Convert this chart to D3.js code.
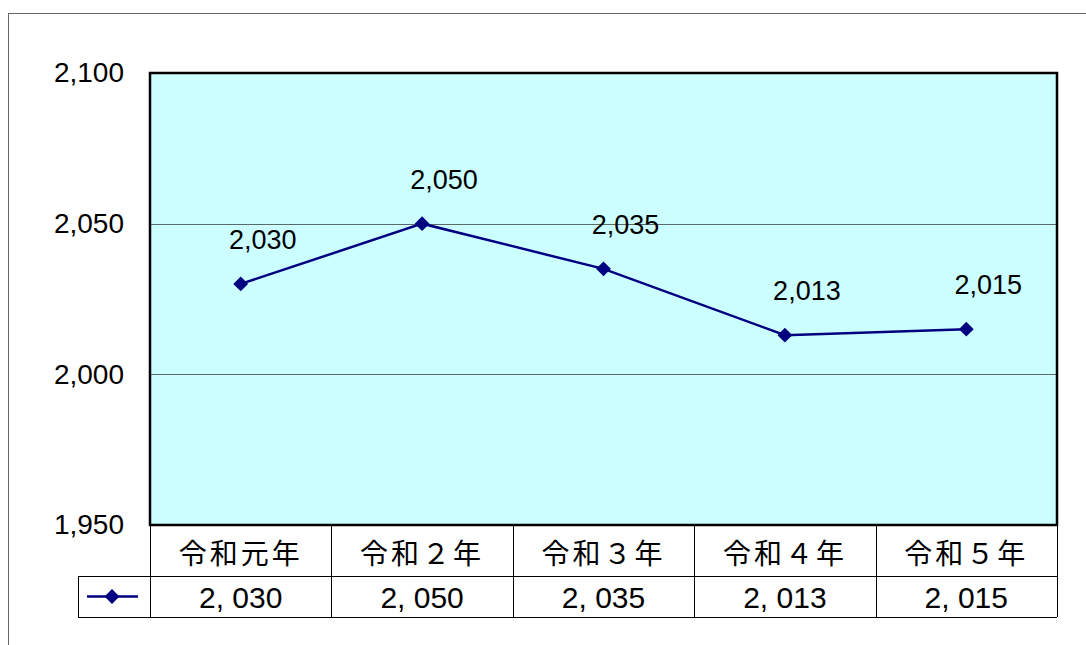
<!DOCTYPE html>
<html>
<head>
<meta charset="utf-8">
<script src="https://cdn.jsdelivr.net/npm/d3@7"></script>
<style>
  body { margin: 0; background: #fff; }
  svg { display: block; }
</style>
</head>
<body>
<div id="chart"></div>
<script>
const categories = ["令和元年", "令和２年", "令和３年", "令和４年", "令和５年"];
const values = [2030, 2050, 2035, 2013, 2015];
const tableLabels = ["2, 030", "2, 050", "2, 035", "2, 013", "2, 015"];
const yTicks = [1950, 2000, 2050, 2100];

const W = 1086, H = 645;
const plot = { left: 150, top: 73, right: 1057, bottom: 525 };
const rowH1 = 51, rowH2 = 41;
const legendLeft = 78;

const svg = d3.select('#chart').append('svg')
  .attr('width', W)
  .attr('height', H);

// outer chart frame
svg.append('rect')
  .attr('x', 8.5).attr('y', 13.5)
  .attr('width', W).attr('height', H)
  .attr('fill', 'none')
  .attr('stroke', '#666')
  .attr('stroke-width', 1);

const x = d3.scaleBand()
  .domain(categories)
  .range([plot.left, plot.right]);

const y = d3.scaleLinear()
  .domain([1950, 2100])
  .range([plot.bottom, plot.top]);

// plot background
svg.append('rect')
  .attr('x', plot.left).attr('y', plot.top)
  .attr('width', plot.right - plot.left)
  .attr('height', plot.bottom - plot.top)
  .attr('fill', '#ccffff');

// gridlines
svg.selectAll('.grid')
  .data(yTicks.filter(d => d > 1950 && d < 2100))
  .enter().append('line')
  .attr('x1', plot.left).attr('x2', plot.right)
  .attr('y1', d => Math.round(y(d)) + 0.5)
  .attr('y2', d => Math.round(y(d)) + 0.5)
  .attr('stroke', '#5a6a6a')
  .attr('stroke-width', 1);

// y axis labels
const yAxis = d3.axisLeft(y)
  .tickValues(yTicks)
  .tickSize(0)
  .tickPadding(26)
  .tickFormat(d3.format(','));

svg.append('g')
  .attr('transform', `translate(${plot.left},0)`)
  .call(yAxis)
  .call(g => g.select('.domain').remove())
  .selectAll('text')
  .attr('font-family', 'Liberation Sans, Arial, sans-serif')
  .attr('font-size', 28)
  .attr('fill', '#000');

// line
const line = d3.line()
  .x((d, i) => x(categories[i]) + x.bandwidth() / 2)
  .y(d => y(d));

svg.append('path')
  .datum(values)
  .attr('d', line)
  .attr('fill', 'none')
  .attr('stroke', '#000080')
  .attr('stroke-width', 2.5);

const diamond = d3.symbol().type(d3.symbolDiamond2).size(140);

svg.selectAll('.pt')
  .data(values)
  .enter().append('path')
  .attr('d', diamond)
  .attr('transform', (d, i) => `translate(${x(categories[i]) + x.bandwidth() / 2},${y(d)})`)
  .attr('fill', '#000080');

// data labels
svg.selectAll('.lbl')
  .data(values)
  .enter().append('text')
  .attr('x', (d, i) => x(categories[i]) + x.bandwidth() / 2 + 22)
  .attr('y', d => y(d) - 44)
  .attr('text-anchor', 'middle')
  .attr('dominant-baseline', 'central')
  .attr('font-family', 'Liberation Sans, Arial, sans-serif')
  .attr('font-size', 27)
  .attr('fill', '#000')
  .text(d => d3.format(',')(d));

// plot border
svg.append('rect')
  .attr('x', plot.left).attr('y', plot.top)
  .attr('width', plot.right - plot.left)
  .attr('height', plot.bottom - plot.top)
  .attr('fill', 'none')
  .attr('stroke', '#000')
  .attr('stroke-width', 2.5);

// data table
const t = svg.append('g').attr('stroke', '#000').attr('stroke-width', 1);
const r1 = plot.bottom, r2 = plot.bottom + rowH1, r3 = plot.bottom + rowH1 + rowH2;

t.append('line').attr('x1', legendLeft).attr('x2', plot.right).attr('y1', r2 + 0.5).attr('y2', r2 + 0.5);
t.append('line').attr('x1', legendLeft).attr('x2', plot.right).attr('y1', r3 + 0.5).attr('y2', r3 + 0.5);
t.append('line').attr('x1', legendLeft + 0.5).attr('x2', legendLeft + 0.5).attr('y1', r2).attr('y2', r3);
t.selectAll('.vdiv')
  .data(categories.concat(['end']))
  .enter().append('line')
  .attr('x1', (d, i) => Math.round(i < categories.length ? x(d) : plot.right) + 0.5)
  .attr('x2', (d, i) => Math.round(i < categories.length ? x(d) : plot.right) + 0.5)
  .attr('y1', r1).attr('y2', r3);

svg.selectAll('.cat')
  .data(categories)
  .enter().append('text')
  .attr('x', d => x(d) + x.bandwidth() / 2)
  .attr('y', (r1 + r2) / 2 + 1)
  .attr('text-anchor', 'middle')
  .attr('dominant-baseline', 'central')
  .attr('font-family', 'Noto Sans CJK JP, sans-serif')
  .attr('font-size', 28)
  .attr('letter-spacing', 3)
  .attr('fill', '#000')
  .text(d => d);

svg.selectAll('.val')
  .data(tableLabels)
  .enter().append('text')
  .attr('x', (d, i) => x(categories[i]) + x.bandwidth() / 2)
  .attr('y', (r2 + r3) / 2 + 1)
  .attr('text-anchor', 'middle')
  .attr('dominant-baseline', 'central')
  .attr('font-family', 'Liberation Sans, Arial, sans-serif')
  .attr('font-size', 30)
  .attr('fill', '#000')
  .text(d => d);

// legend key
const ly = (r2 + r3) / 2;
svg.append('line')
  .attr('x1', legendLeft + 9).attr('x2', plot.left - 12)
  .attr('y1', ly).attr('y2', ly)
  .attr('stroke', '#000080').attr('stroke-width', 2.5);
svg.append('path')
  .attr('d', diamond)
  .attr('transform', `translate(${(legendLeft + plot.left) / 2 - 2},${ly})`)
  .attr('fill', '#000080');
</script>
</body>
</html>
